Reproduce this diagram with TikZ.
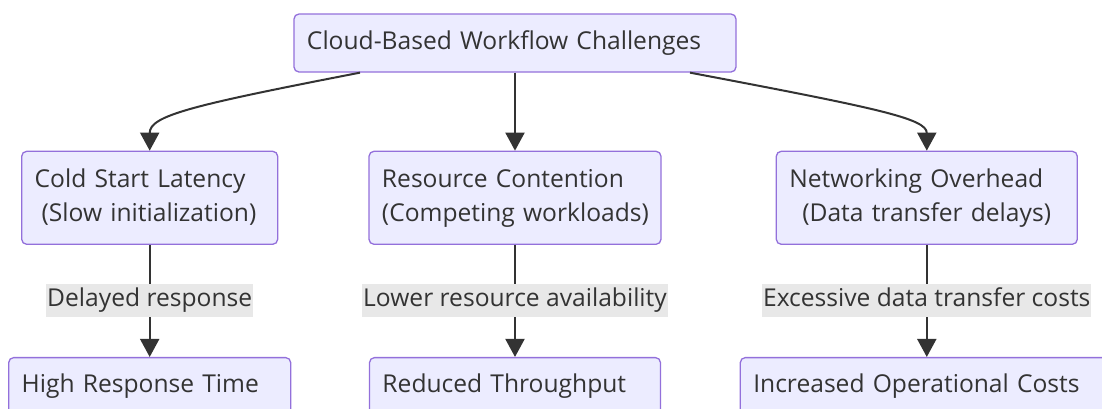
\documentclass[tikz,border=0pt]{standalone}
\usepackage{fontspec}
\setmainfont{Open Sans}
\usepackage{tikz}
\usetikzlibrary{arrows.meta,positioning,calc}
\definecolor{boxfill}{HTML}{ECECFF}
\definecolor{boxedge}{HTML}{9370DB}
\definecolor{inkgray}{HTML}{333333}
\definecolor{labelbg}{HTML}{E8E8E8}
\tikzset{
  issuebox/.style={
    draw=boxedge,fill=boxfill,line width=1.3pt,rounded corners=5pt,
    text=inkgray,align=left,inner xsep=13pt,inner ysep=0pt,
    font=\fontsize{24.6}{34}\selectfont
  },
  onebox/.style={issuebox,minimum height=58pt},
  twobox/.style={issuebox,minimum height=93pt},
  edgelabel/.style={
    fill=labelbg,text=inkgray,inner xsep=1pt,inner ysep=0pt,
    text height=18pt,text depth=6pt,
    minimum height=33pt,font=\fontsize{24.6}{34}\selectfont
  },
  flowarrow/.style={-{Triangle[length=18pt,width=19pt]},line width=2pt,draw=inkgray}
}
\begin{document}
\begin{tikzpicture}
  \useasboundingbox (-515pt,43pt) rectangle (587pt,-365pt);
  \clip (-515pt,43pt) rectangle (587pt,-365pt);
  \node[onebox,text width=416pt] (top) at (0,0) {Cloud-Based Workflow Challenges};
  % the three challenges
  \node[twobox,text width=266pt,below=78pt of top] (res)
    {\mbox{\strut Resource Contention}\\\mbox{\strut(Competing workloads)}};
  \node[twobox,text width=230pt,left=90pt of res] (cold)
    {\strut Cold Start Latency\\\hspace*{7pt}\strut(Slow initialization)};
  \node[twobox,text width=275pt,right=114pt of res] (net)
    {\strut Networking Overhead\\\hspace*{13pt}\strut(Data transfer delays)};
  % their consequences
  \node[onebox,text width=256pt,below=112pt of cold] (high) {High Response Time};
  \node[onebox,text width=265pt,below=112pt of res] (red) {Reduced Throughput};
  \node[onebox,text width=347pt,below=112pt of net] (inc) {Increased Operational Costs};
  \draw[flowarrow] ([xshift=-155pt]top.south)
    .. controls ($(top.south)+(-325pt,-33pt)$) and ($(cold.north)+(0,35pt)$) .. (cold.north);
  \draw[flowarrow] (top) -- (res);
  \draw[flowarrow] ([xshift=175pt]top.south)
    .. controls ($(top.south)+(365pt,-36pt)$) and ($(net.north)+(0,32pt)$) .. (net.north);
  \draw[flowarrow] (cold) -- node[edgelabel] {Delayed response} (high);
  \draw[flowarrow] (res) -- node[edgelabel] {Lower resource availability} (red);
  \draw[flowarrow] (net) -- node[edgelabel] {Excessive data transfer costs} (inc);
\end{tikzpicture}
\end{document}
